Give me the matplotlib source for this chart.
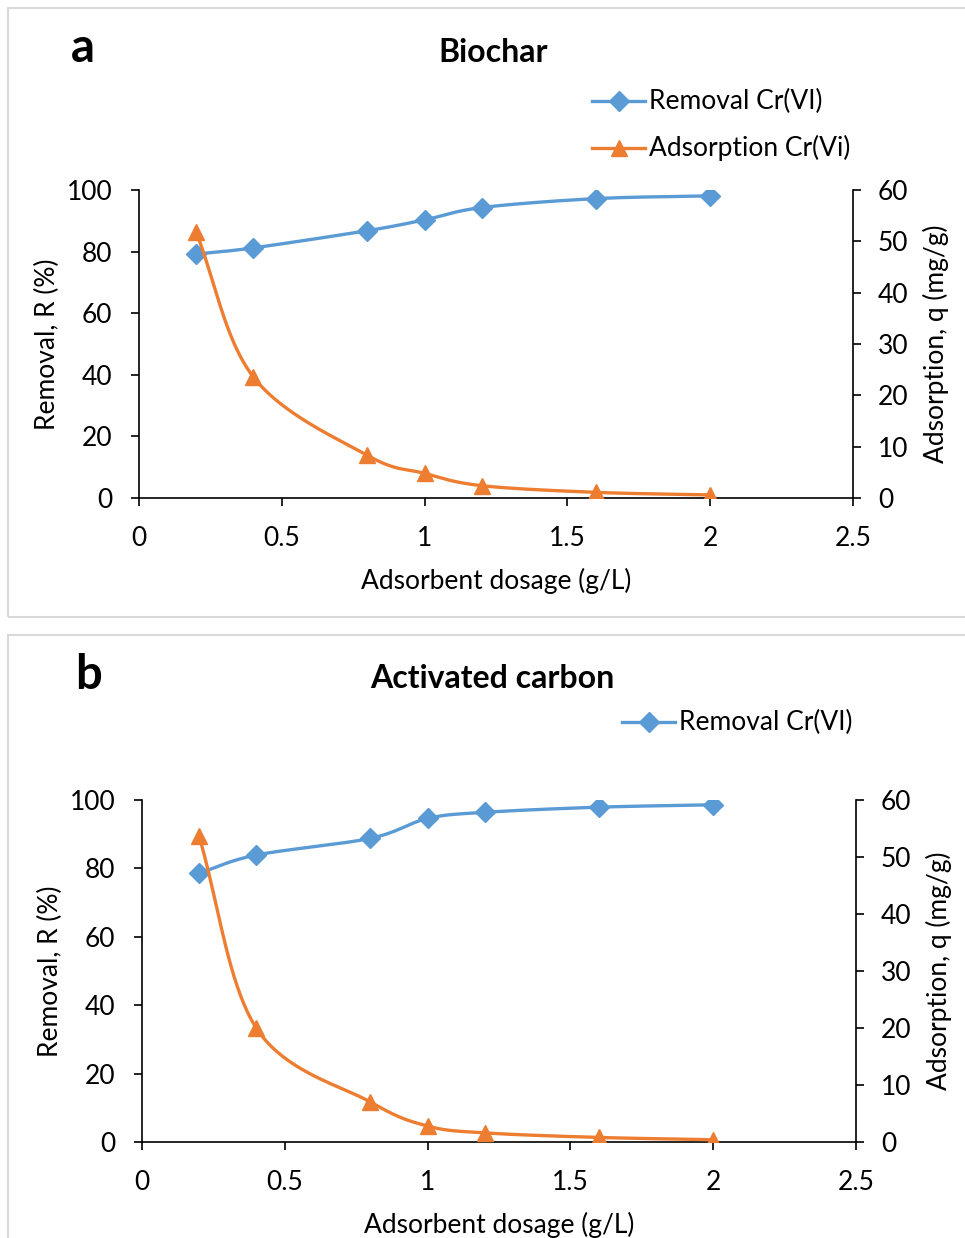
import numpy as np
import matplotlib
matplotlib.use("Agg")
import matplotlib.pyplot as plt
from matplotlib.patches import Rectangle
from matplotlib.lines import Line2D

plt.rcParams['font.family'] = ['Lato', 'DejaVu Sans']

# Adsorbent dosage (g/L)
dosage = [0.2, 0.4, 0.8, 1.0, 1.2, 1.6, 2.0]

# Biochar
biochar_removal = [79.2, 81.2, 86.8, 90.3, 94.3, 97.2, 98.1]
biochar_adsorption = [51.8, 23.6, 8.3, 4.8, 2.4, 1.1, 0.6]

# Activated carbon
ac_removal = [78.6, 83.9, 88.8, 94.6, 96.4, 97.9, 98.6]
ac_adsorption = [53.6, 20.0, 7.0, 2.8, 1.6, 0.8, 0.4]

panel_letters = ["a", "b"]
panel_titles = ["Biochar", "Activated carbon"]
x_label = "Adsorbent dosage (g/L)"
left_label = "Removal, R (%)"
right_label = "Adsorption, q (mg/g)"
removal_name = "Removal Cr(VI)"
adsorption_name = "Adsorption Cr(Vi)"

BLUE = "#5B9BD5"
ORANGE = "#ED7D31"
W, H = 965, 1238
FS = 19
MS_D, MS_T = 10, 12


def smooth(xs, ys, xspan, yspan, aspect, n=40):
    """Catmull-Rom spline through the points, computed in scaled space."""
    px = np.asarray(xs, float) / xspan * aspect
    py = np.asarray(ys, float) / yspan
    P = np.column_stack([px, py])
    P = np.vstack([2 * P[0] - P[1], P, 2 * P[-1] - P[-2]])
    out = []
    for i in range(1, len(P) - 2):
        p0, p1, p2, p3 = P[i - 1], P[i], P[i + 1], P[i + 2]
        t = np.linspace(0, 1, n)[:, None]
        seg = 0.5 * ((2 * p1) + (-p0 + p2) * t + (2 * p0 - 5 * p1 + 4 * p2 - p3) * t ** 2
                     + (-p0 + 3 * p1 - 3 * p2 + p3) * t ** 3)
        out.append(seg if i == 1 else seg[1:])
    out = np.vstack(out)
    return out[:, 0] / aspect * xspan, out[:, 1] * yspan


def px_rect(l, t, r, b):
    return [l / W, 1 - b / H, (r - l) / W, (b - t) / H]


fig = plt.figure(figsize=(W / 100, H / 100), dpi=100)

# panel frames
for (l, t, r, b) in [(8, 8, 975, 617), (8, 635, 975, 1250)]:
    fig.patches.append(Rectangle((l / W, 1 - b / H), (r - l) / W, (b - t) / H,
                                 transform=fig.transFigure, fill=False,
                                 edgecolor="#d9d9d9", linewidth=1.5))

panels = [
    dict(rect=(139, 190, 853, 498), rem=biochar_removal, ads=biochar_adsorption,
         letter_xy=(83, 48), title_xy=(493, 52), legend_y=[101, 148], legend_x=592,
         both=True),
    dict(rect=(142, 800, 856, 1142), rem=ac_removal, ads=ac_adsorption,
         letter_xy=(89, 675), title_xy=(492, 678), legend_y=[722], legend_x=622,
         both=False),
]

for k, p in enumerate(panels):
    l, t, r, b = p["rect"]
    ax = fig.add_axes(px_rect(l, t, r, b))
    ax2 = ax.twinx()
    aspect = (r - l) / (b - t)

    sx, sy = smooth(dosage, p["rem"], 2.5, 100, aspect)
    ax.plot(sx, sy, color=BLUE, lw=2.4, zorder=3)
    ax.plot(dosage, p["rem"], ls="none", marker="D", ms=MS_D, color=BLUE, zorder=4)

    sx, sy = smooth(dosage, p["ads"], 2.5, 60, aspect)
    ax2.plot(sx, sy, color=ORANGE, lw=2.4, zorder=3)
    ax2.plot(dosage, p["ads"], ls="none", marker="^", ms=MS_T, color=ORANGE, zorder=4)

    ax.set_xlim(0, 2.5)
    ax.set_ylim(0, 100)
    ax2.set_ylim(0, 60)
    ax.set_xticks([0, 0.5, 1, 1.5, 2, 2.5])
    ax.set_xticklabels(["0", "0.5", "1", "1.5", "2", "2.5"])
    ax.set_yticks(range(0, 101, 20))
    ax2.set_yticks(range(0, 61, 10))

    for a in (ax, ax2):
        a.spines["top"].set_visible(False)
        for s in a.spines.values():
            s.set_linewidth(1.2)
        a.tick_params(labelsize=FS, width=1.2, length=6, direction="out")
    ax.spines["right"].set_visible(False)
    ax2.spines["left"].set_visible(False)
    ax2.spines["bottom"].set_visible(False)
    ax.tick_params(axis="y", pad=13)
    ax2.tick_params(axis="y", pad=12)
    ax.tick_params(axis="x", pad=14)

    ax.set_xlabel(x_label, fontsize=FS, labelpad=12)
    ax.set_ylabel(left_label, fontsize=FS, labelpad=5)
    ax2.set_ylabel(right_label, fontsize=FS, labelpad=10)

    lx, ly = p["letter_xy"]
    fig.text(lx / W, 1 - ly / H, panel_letters[k], fontsize=34, fontweight="bold",
             ha="center", va="center")
    tx, ty = p["title_xy"]
    fig.text(tx / W, 1 - ty / H, panel_titles[k], fontsize=23, fontweight="bold",
             ha="center", va="center")

    entries = [(removal_name, BLUE, "D", MS_D)]
    if p["both"]:
        entries.append((adsorption_name, ORANGE, "^", MS_T))
    x0 = p["legend_x"]
    for (name, col, mk, ms), yy in zip(entries, p["legend_y"]):
        yf = 1 - yy / H
        fig.add_artist(Line2D([x0 / W, (x0 + 53) / W], [yf, yf], color=col, lw=2.4,
                              transform=fig.transFigure))
        fig.add_artist(Line2D([(x0 + 26.5) / W], [yf], color=col, marker=mk, ms=ms,
                              ls="none", transform=fig.transFigure))
        fig.text((x0 + 57) / W, yf, name, fontsize=FS, ha="left", va="center")

fig.savefig("out.png", dpi=100)
